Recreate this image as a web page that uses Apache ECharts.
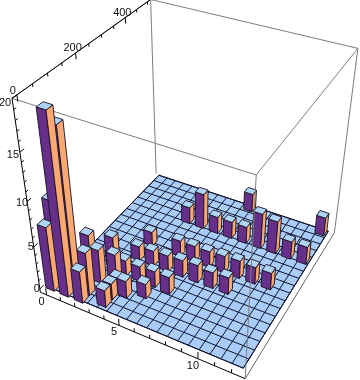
<!DOCTYPE html><html><body style="margin:0;background:#fff;overflow:hidden"><div id="c" style="width:360px;height:380px"></div>
<script src="https://cdn.jsdelivr.net/npm/echarts@6/dist/echarts.min.js"></script>
<script>
// data: bar centre x, bar centre y, bar height
var barX=[0,0,1,1,2,2,1,2,2,3.35,3.35,2.8,3,3,3,3.35,4,4,4,4,5,5,5,5,5,6,6,6,6,7,7,7,7,8,8,8,9,9,9,10,10,11,11,12,12];
var barY=[6,32,6,32,6,33,100,80,140,20,47,99,129,189,249,74,67,128,189,369,87,128,189,249,369,125,189,249,369,189,249,369,489,189,249,369,189,249,369,249,369,249,369,369,489];
var barZ=[7.4,9.6,19.6,17.7,3.7,5.0,4.4,3.9,3.6,2.0,1.9,3.3,1.8,1.7,1.7,1.7,2.0,1.8,1.8,2.0,1.7,1.9,1.9,1.9,4.2,2.0,2.0,1.9,2.0,2.1,1.9,2.0,2.2,1.9,2.0,2.0,2.0,2.1,4.2,2.0,3.9,2.0,2.1,2.1,2.2];
var zTicks=[0,5,10,15,20], xTicks=[0,5,10], yTicks=[0,200,400];
var barHalfX=0.3, barHalfY=11, barShiftX=0.1;
var R={x:[-0.45,12.8],y:[-15,515],z:[-0.4,20]};
var plate={x:[0,12.5],y:[0,500],nx:19,ny:18};
var C=[[0,0,0,40,293],[1,0,0,245,378],[1,1,0,334,234],[0,1,0,157,172],[0,0,1,12,99],[1,0,1,257,174],[1,1,1,358,48],[0,1,1,150,0]];
function solve(A,b){var n=b.length;A=A.map(function(r,i){return r.concat(b[i])});for(var i=0;i<n;i++){var p=i;for(var k=i;k<n;k++)if(Math.abs(A[k][i])>Math.abs(A[p][i]))p=k;var t=A[i];A[i]=A[p];A[p]=t;for(k=0;k<n;k++)if(k!=i){var f=A[k][i]/A[i][i];for(var j=i;j<=n;j++)A[k][j]-=f*A[i][j];}}return A.map(function(r,i){return r[n]/r[i]})}
var rows=[],rhs=[];C.forEach(function(c){var u=c[0],v=c[1],t=c[2],X=c[3],Y=c[4];rows.push([u,v,t,1,0,0,0,0,-X*u,-X*v,-X*t]);rhs.push(X);rows.push([0,0,0,0,u,v,t,1,-Y*u,-Y*v,-Y*t]);rhs.push(Y);});
var N=[],B=[];for(var i=0;i<11;i++){N.push([]);B.push(0);for(var j=0;j<11;j++){var s=0;rows.forEach(function(r){s+=r[i]*r[j]});N[i].push(s);}rows.forEach(function(r,k){B[i]+=r[i]*rhs[k]});}
var P=solve(N,B);
function proj(x,y,z){var u=(x-R.x[0])/(R.x[1]-R.x[0]),v=(y-R.y[0])/(R.y[1]-R.y[0]),t=(z-R.z[0])/(R.z[1]-R.z[0]);var w=P[8]*u+P[9]*v+P[10]*t+1;return [(P[0]*u+P[1]*v+P[2]*t+P[3])/w,(P[4]*u+P[5]*v+P[6]*t+P[7])/w];}
var PURPLE='#66308a',ORANGE='#fba873',TOP='#aed4f8',FLOOR='#a9cdf8',GRID='#10142e',GRAY='#7d7d7d';
function seg(api,a,b,col,w){var p=api.coord(proj(a[0],a[1],a[2])),q=api.coord(proj(b[0],b[1],b[2]));return {type:'line',shape:{x1:p[0],y1:p[1],x2:q[0],y2:q[1]},style:{stroke:col,lineWidth:w,fill:null}};}
function poly(api,pts,fill,stroke,w){return {type:'polygon',shape:{points:pts.map(function(a){return api.coord(proj(a[0],a[1],a[2]))})},style:{fill:fill,stroke:stroke,lineWidth:w,lineJoin:'round'}};}
function txt(api,at,s,dx,dy){var p=api.coord(proj(at[0],at[1],at[2]));return {type:'text',x:p[0]+dx,y:p[1]+dy,style:{text:String(s),fill:'#111',font:'11px "Liberation Sans"',textAlign:'center',textVerticalAlign:'middle'}};}
var X0=R.x[0],X1=R.x[1],Y0=R.y[0],Y1=R.y[1],Z0=R.z[0],Z1=R.z[1];
function frameBack(p,api){return {type:'group',children:[
 seg(api,[X0,Y0,Z1],[X0,Y1,Z1],GRAY,1),seg(api,[X0,Y1,Z1],[X1,Y1,Z1],GRAY,1),seg(api,[X1,Y1,Z1],[X1,Y0,Z1],GRAY,1),seg(api,[X1,Y0,Z1],[X0,Y0,Z1],GRAY,1),
 seg(api,[X0,Y1,Z0],[X0,Y1,Z1],GRAY,1),seg(api,[X1,Y1,Z0],[X1,Y1,Z1],GRAY,1),seg(api,[X1,Y0,Z0],[X1,Y1,Z0],'#666',1)]};}
function floor(p,api){var ch=[poly(api,[[plate.x[0],plate.y[0],0],[plate.x[1],plate.y[0],0],[plate.x[1],plate.y[1],0],[plate.x[0],plate.y[1],0]],FLOOR,GRID,1)];
 for(var i=0;i<=plate.nx;i++){var x=plate.x[0]+(plate.x[1]-plate.x[0])*i/plate.nx;ch.push(seg(api,[x,plate.y[0],0],[x,plate.y[1],0],GRID,1));}
 for(var j=0;j<=plate.ny;j++){var y=plate.y[0]+(plate.y[1]-plate.y[0])*j/plate.ny;ch.push(seg(api,[plate.x[0],y,0],[plate.x[1],y,0],GRID,1));}
 return {type:'group',children:ch};}
function bar(p,api){var x=api.value(0)+barShiftX,y=api.value(1),h=api.value(2),a=x-barHalfX,b=x+barHalfX,c=y-barHalfY,d=y+barHalfY,e='#1a1020';
 return {type:'group',children:[
  poly(api,[[a,c,0],[b,c,0],[b,c,h],[a,c,h]],PURPLE,e,0.9),
  poly(api,[[b,c,0],[b,d,0],[b,d,h],[b,c,h]],ORANGE,e,0.9),
  poly(api,[[a,c,h],[b,c,h],[b,d,h],[a,d,h]],TOP,e,0.9)]};}
var zDx={0:-3,5:-3,10:-5,15:-7,20:-7}, zDy={0:0,5:0,10:1,15:3,20:5};
function axes(p,api){var ch=[seg(api,[X1,Y0,Z0],[X1,Y0,Z1],GRAY,1),
 seg(api,[X0,Y0,Z0],[X0,Y0,Z1],'#000',1),seg(api,[X0,Y0,Z0],[X1,Y0,Z0],'#000',1),seg(api,[X0,Y0,Z1],[X0,Y1,Z1],'#000',1)];
 for(var z=0;z<=20;z++){var m=z%5==0;ch.push(seg(api,[X0,Y0,z],[X0,Y0+(m?14:8),z],'#000',1));}
 for(var x=0;x<=12;x++){var m=x%5==0;ch.push(seg(api,[x,Y0,Z0],[x,Y0,Z0+(m?0.8:0.45)],'#000',1));}
 for(var y=0;y<=500;y+=50){var m=y%200==0;ch.push(seg(api,[X0,y,Z1],[X0,y,Z1-(m?0.6:0.3)],'#000',1));}
 zTicks.forEach(function(z){ch.push(txt(api,[X0,Y0,z],z,zDx[z],zDy[z]));});
 xTicks.forEach(function(x){ch.push(txt(api,[x,Y0,Z0],x,-5,7));});
 yTicks.forEach(function(y){ch.push(txt(api,[X0,y,Z1],y,y==0?-4:-3,y==0?-4:-5));});
 return {type:'group',children:ch};}
var order=barX.map(function(_,i){return i}).sort(function(i,j){return (barY[j]-barY[i])||(barX[i]-barX[j])});
var barData=order.map(function(i){return [barX[i],barY[i],barZ[i]]});
function one(fn){return {type:'custom',coordinateSystem:'cartesian2d',clip:false,silent:true,data:[[0,0]],renderItem:fn,animation:false};}
var chart=echarts.init(document.getElementById('c'),null,{renderer:'canvas'});
chart.setOption({animation:false,backgroundColor:'#fff',
 grid:{left:0,right:0,top:0,bottom:0},
 xAxis:{type:'value',min:0,max:360,show:false},yAxis:{type:'value',min:0,max:380,inverse:true,show:false},
 series:[one(frameBack),one(floor),{type:'custom',coordinateSystem:'cartesian2d',clip:false,silent:true,data:barData,renderItem:bar,animation:false},one(axes)]});
</script></body></html>
